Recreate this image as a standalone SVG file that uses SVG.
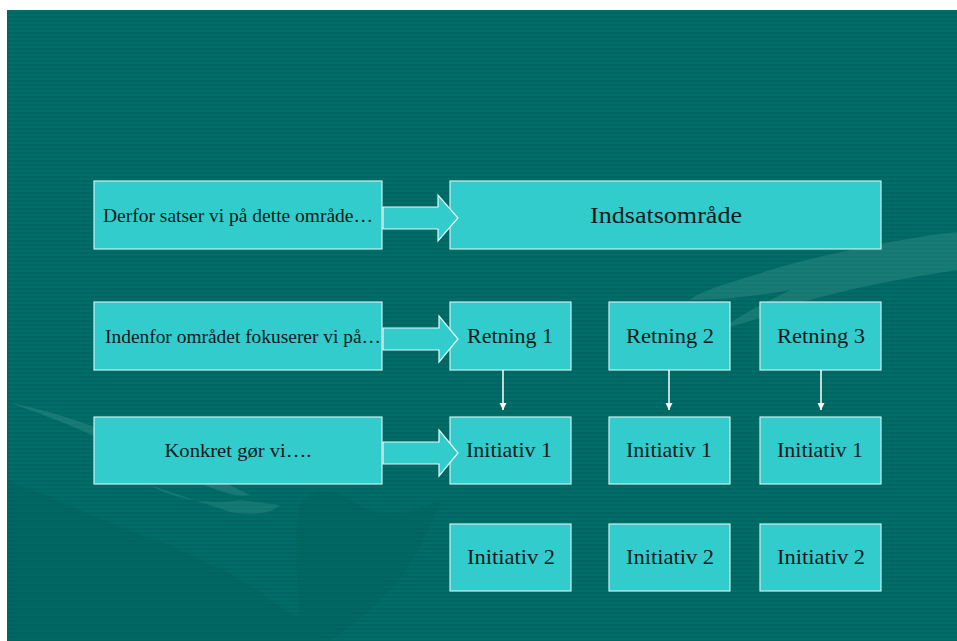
<svg xmlns="http://www.w3.org/2000/svg" width="957" height="641" viewBox="0 0 957 641">
<style>
.box{fill:#33CCCC;stroke:#CDEFEF;stroke-width:1.2}
.t{font-family:"Liberation Serif","Times New Roman",serif;fill:#0a1a1a}
.s{font-size:19px}
.m{font-size:21px}
.l{font-size:24px}
.big{fill:#33CCCC;stroke:#E6FAFA;stroke-width:1.2}
.down{stroke:#FFFFFF;stroke-width:1.5;fill:none}
</style>
<defs>
<pattern id="stripes" width="8" height="4" patternUnits="userSpaceOnUse">
<rect width="8" height="4" fill="#006662"/>
<rect y="2" width="8" height="2" fill="#006D68"/>
</pattern>
<marker id="ah" viewBox="0 0 10 10" refX="10" refY="5" markerWidth="7" markerHeight="8" markerUnits="userSpaceOnUse" orient="auto">
<path d="M0,0 L10,5 L0,10 Z" fill="#FFFFFF"/>
</marker>
</defs>
<rect width="957" height="641" fill="#FFFFFF"/>
<rect x="7" y="10" width="950" height="631" fill="url(#stripes)"/>
<g id="background-shapes">
<path d="M957,232 C900,238 820,255 770,270 C740,280 700,290 690,300 C720,300 760,296 790,290 C770,300 740,315 720,330 L760,318 C800,300 860,285 957,270 Z" fill="#2E8A84" opacity="0.5"/>
<path d="M10,403 C60,420 120,445 160,470 C200,480 230,500 250,495 C220,480 170,455 130,440 C90,425 50,410 10,403 Z" fill="#3A928C" opacity="0.4"/>
<path d="M7,480 C60,500 120,530 170,545 C200,560 240,575 270,600 C290,615 300,620 300,612 C298,580 292,540 300,505 C310,490 330,485 350,500 C380,520 410,515 440,500 C420,560 390,600 330,641 L7,641 Z" fill="#005E59" opacity="0.35"/>
<path d="M150,485 C175,500 210,505 240,500 L280,505 C270,515 250,515 230,512 Z" fill="#3A928C" opacity="0.35"/>
</g>
<g id="n-derfor"><rect x="94" y="181" width="288" height="68" class="box"/><text x="238" y="222" text-anchor="middle" class="t s" textLength="270" lengthAdjust="spacingAndGlyphs">Derfor satser vi på dette område…</text></g>
<g id="n-indenfor"><rect x="94" y="302" width="288" height="68" class="box"/><text x="243" y="343" text-anchor="middle" class="t s" textLength="276" lengthAdjust="spacingAndGlyphs">Indenfor området fokuserer vi på…</text></g>
<g id="n-konkret"><rect x="94" y="417" width="288" height="67" class="box"/><text x="238" y="457" text-anchor="middle" class="t s" textLength="147" lengthAdjust="spacingAndGlyphs">Konkret gør vi….</text></g>
<g id="n-indsats"><rect x="450" y="181" width="431" height="68" class="box"/><text x="666" y="223" text-anchor="middle" class="t l" textLength="152" lengthAdjust="spacingAndGlyphs">Indsatsområde</text></g>
<g id="n-retning1"><rect x="450" y="302" width="121" height="68" class="box"/><text x="510" y="343" text-anchor="middle" class="t m" textLength="86" lengthAdjust="spacingAndGlyphs">Retning 1</text></g>
<g id="n-retning2"><rect x="609" y="302" width="121" height="68" class="box"/><text x="670" y="343" text-anchor="middle" class="t m" textLength="88" lengthAdjust="spacingAndGlyphs">Retning 2</text></g>
<g id="n-retning3"><rect x="760" y="302" width="121" height="68" class="box"/><text x="821" y="343" text-anchor="middle" class="t m" textLength="88" lengthAdjust="spacingAndGlyphs">Retning 3</text></g>
<g id="n-init1a"><rect x="450" y="417" width="121" height="67" class="box"/><text x="509" y="457" text-anchor="middle" class="t m" textLength="86" lengthAdjust="spacingAndGlyphs">Initiativ 1</text></g>
<g id="n-init1b"><rect x="609" y="417" width="121" height="67" class="box"/><text x="669" y="457" text-anchor="middle" class="t m" textLength="86" lengthAdjust="spacingAndGlyphs">Initiativ 1</text></g>
<g id="n-init1c"><rect x="760" y="417" width="121" height="67" class="box"/><text x="820" y="457" text-anchor="middle" class="t m" textLength="86" lengthAdjust="spacingAndGlyphs">Initiativ 1</text></g>
<g id="n-init2a"><rect x="450" y="524" width="121" height="67" class="box"/><text x="511" y="564" text-anchor="middle" class="t m" textLength="88" lengthAdjust="spacingAndGlyphs">Initiativ 2</text></g>
<g id="n-init2b"><rect x="609" y="524" width="121" height="67" class="box"/><text x="670" y="564" text-anchor="middle" class="t m" textLength="88" lengthAdjust="spacingAndGlyphs">Initiativ 2</text></g>
<g id="n-init2c"><rect x="760" y="524" width="121" height="67" class="box"/><text x="821" y="564" text-anchor="middle" class="t m" textLength="88" lengthAdjust="spacingAndGlyphs">Initiativ 2</text></g>
<g id="connectors">
<polygon points="383,207 438,207 438,195 458,218 438,241 438,229 383,229" class="big"/>
<polygon points="383,328 439,328 439,316 458,339 439,362 439,350 383,350" class="big"/>
<polygon points="383,442 439,442 439,430 458,453 439,476 439,464 383,464" class="big"/>
<line x1="503" y1="370" x2="503" y2="410" class="down" marker-end="url(#ah)"/>
<line x1="669" y1="370" x2="669" y2="410" class="down" marker-end="url(#ah)"/>
<line x1="821" y1="370" x2="821" y2="410" class="down" marker-end="url(#ah)"/>
</g>
</svg>
